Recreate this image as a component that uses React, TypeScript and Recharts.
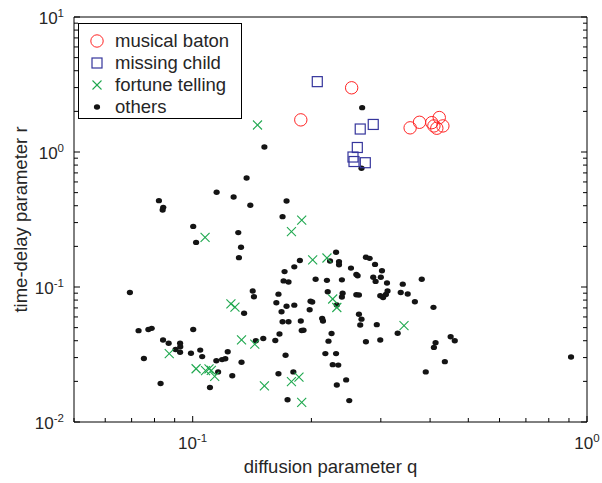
import { ScatterChart, Scatter, XAxis, YAxis, Legend } from 'recharts';

// q = diffusion parameter, r = time-delay parameter
const musicalBaton: [number, number][] = [
    [0.188, 1.73], [0.253, 2.99], [0.356, 1.51], [0.376, 1.66], [0.404, 1.65],
    [0.422, 1.8], [0.409, 1.56], [0.416, 1.5], [0.431, 1.56],
];

const missingChild: [number, number][] = [
    [0.207, 3.32], [0.287, 1.6], [0.266, 1.48], [0.2615, 1.08], [0.255, 0.918],
    [0.2565, 0.85], [0.274, 0.833],
];

const fortuneTelling: [number, number][] = [
    [0.146, 1.585], [0.1075, 0.233], [0.178, 0.257], [0.189, 0.313], [0.2015, 0.159],
    [0.219, 0.164], [0.125, 0.0751], [0.128, 0.0709], [0.2265, 0.0815], [0.232, 0.0705],
    [0.0872, 0.0321], [0.133, 0.0406], [0.1437, 0.0377], [0.102, 0.0248], [0.1078, 0.024],
    [0.11, 0.0247], [0.1115, 0.0241], [0.1137, 0.0218], [0.152, 0.0185], [0.178, 0.0199],
    [0.186, 0.0215], [0.189, 0.014], [0.3435, 0.0517],
];

const others: [number, number][] = [
    [0.152, 1.09], [0.269, 2.13], [0.268, 0.757], [0.137, 0.642], [0.115, 0.503],
    [0.127, 0.464], [0.14, 0.403], [0.173, 0.434], [0.169, 0.332], [0.0821, 0.436],
    [0.0842, 0.389], [0.0839, 0.372], [0.1003, 0.281], [0.102, 0.214], [0.1305, 0.253],
    [0.1326, 0.197], [0.131, 0.165], [0.0693, 0.0911],
    [0.187, 0.157], [0.181, 0.141], [0.171, 0.13], [0.17, 0.111], [0.175, 0.109],
    [0.231, 0.181], [0.223, 0.156], [0.235, 0.154], [0.235, 0.146], [0.252, 0.138],
    [0.26, 0.124], [0.262, 0.121], [0.275, 0.166], [0.281, 0.163], [0.29, 0.147],
    [0.302, 0.132], [0.287, 0.118], [0.3, 0.118], [0.291, 0.11], [0.311, 0.107],
    [0.381, 0.114], [0.341, 0.105], [0.337, 0.0911], [0.351, 0.0887], [0.205, 0.114],
    [0.219, 0.112], [0.239, 0.113], [0.142, 0.0934], [0.143, 0.0847], [0.165, 0.0885],
    [0.163, 0.0765], [0.173, 0.0721], [0.181, 0.0734], [0.199, 0.0784], [0.201, 0.0774],
    [0.198, 0.0678], [0.22, 0.0923], [0.24, 0.0898], [0.239, 0.0843], [0.232, 0.0736],
    [0.26, 0.0877], [0.264, 0.0872], [0.299, 0.0861], [0.304, 0.0836], [0.309, 0.088],
    [0.312, 0.0934], [0.366, 0.0778], [0.408, 0.0707], [0.264, 0.0628], [0.268, 0.0578],
    [0.266, 0.0523], [0.135, 0.0639], [0.168, 0.0656], [0.213, 0.0584], [0.214, 0.056],
    [0.169, 0.0553], [0.175, 0.0553], [0.188, 0.056], [0.293, 0.0526], [0.0729, 0.0475],
    [0.0772, 0.0484], [0.0787, 0.0494], [0.1003, 0.0484], [0.0841, 0.0405], [0.0869, 0.0383],
    [0.0905, 0.0344], [0.0929, 0.0383], [0.093, 0.0361], [0.0929, 0.0329], [0.0752, 0.0295],
    [0.099, 0.0323], [0.1045, 0.0341], [0.1057, 0.0305], [0.1227, 0.0331], [0.1148, 0.0284],
    [0.1187, 0.029], [0.121, 0.0294], [0.1446, 0.04], [0.151, 0.0415], [0.166, 0.0449],
    [0.162, 0.0402], [0.189, 0.0476], [0.191, 0.0478], [0.225, 0.0452], [0.221, 0.0397],
    [0.275, 0.0393], [0.299, 0.0405], [0.331, 0.0454], [0.451, 0.0428], [0.462, 0.04],
    [0.413, 0.0387], [0.409, 0.0357], [0.172, 0.0312], [0.133, 0.0277], [0.217, 0.0321],
    [0.231, 0.0321], [0.2265, 0.0266], [0.234, 0.0264], [0.436, 0.028], [0.911, 0.0303],
    [0.116, 0.0235], [0.126, 0.022], [0.0829, 0.0193], [0.1106, 0.018], [0.165, 0.0228],
    [0.18, 0.0235], [0.174, 0.0146], [0.232, 0.0188], [0.245, 0.0205], [0.2495, 0.0144],
    [0.39, 0.0235],
];

const xTicks = [0.05, 0.06, 0.07, 0.08, 0.09, 0.1, 0.2, 0.3, 0.4, 0.5, 0.6, 0.7, 0.8, 0.9, 1];
const yTicks = [
    0.01, 0.02, 0.03, 0.04, 0.05, 0.06, 0.07, 0.08, 0.09,
    0.1, 0.2, 0.3, 0.4, 0.5, 0.6, 0.7, 0.8, 0.9,
    1, 2, 3, 4, 5, 6, 7, 8, 9, 10,
];

const FONT = '"Liberation Sans", Arial, Helvetica, sans-serif';
const TEXT = '#262626';
const RED = '#ff2424';
const BLUE = '#35359c';
const GREEN = '#1fa84f';
const DOT = '#141414';

const toPts = (arr: [number, number][]) => arr.map(([q, r]) => ({ q, r }));

const isMajor = (v: number) => Math.abs(Math.log10(v) - Math.round(Math.log10(v))) < 1e-6;
const expOf = (v: number) => Math.round(Math.log10(v));

const Pow = ({ x, y, v, anchor }: any) => (
    <text x={x} y={y} textAnchor={anchor} fontSize={17} fill={TEXT} fontFamily={FONT}>
        10<tspan dy={-7} fontSize={11.5}>{expOf(v)}</tspan>
    </text>
);

// ticks point inward, like a matlab box
const BottomTick = ({ x, y, payload }: any) => {
    const major = isMajor(payload.value);
    return (
        <g>
            <line x1={x} x2={x} y1={y} y2={y - (major ? 6 : 4)} stroke="#000" />
            {major && <Pow x={x} y={y + 27} v={payload.value} anchor="middle" />}
        </g>
    );
};

const TopTick = ({ x, y, payload }: any) => {
    const major = isMajor(payload.value);
    return <line x1={x} x2={x} y1={y} y2={y + (major ? 6 : 4)} stroke="#000" />;
};

const LeftTick = ({ x, y, payload }: any) => {
    const major = isMajor(payload.value);
    return (
        <g>
            <line x1={x} x2={x + (major ? 6 : 4)} y1={y} y2={y} stroke="#000" />
            {major && <Pow x={x - 10} y={y + 7} v={payload.value} anchor="end" />}
        </g>
    );
};

const RightTick = ({ x, y, payload }: any) => {
    const major = isMajor(payload.value);
    return <line x1={x} x2={x - (major ? 6 : 4)} y1={y} y2={y} stroke="#000" />;
};

const CircleMark = ({ cx, cy }: any) => (
    <circle cx={cx} cy={cy} r={6.2} fill="none" stroke={RED} strokeWidth={1} />
);
const SquareMark = ({ cx, cy }: any) => (
    <rect x={cx - 5} y={cy - 5} width={10} height={10} fill="none" stroke={BLUE} strokeWidth={1.2} />
);
const CrossMark = ({ cx, cy }: any) => (
    <g stroke={GREEN} strokeWidth={1.1}>
        <line x1={cx - 4.5} y1={cy - 4.5} x2={cx + 4.5} y2={cy + 4.5} />
        <line x1={cx - 4.5} y1={cy + 4.5} x2={cx + 4.5} y2={cy - 4.5} />
    </g>
);
const DotMark = ({ cx, cy }: any) => <ellipse cx={cx} cy={cy} rx={3.1} ry={2.7} fill={DOT} />;

const legendRows = [
    { name: 'musical baton', mark: <circle cx={8} cy={8} r={6.2} fill="none" stroke={RED} /> },
    { name: 'missing child', mark: <rect x={3} y={3} width={10} height={10} fill="none" stroke={BLUE} strokeWidth={1.2} /> },
    {
        name: 'fortune telling',
        mark: (
            <g stroke={GREEN} strokeWidth={1.1}>
                <line x1={3.5} y1={3.5} x2={12.5} y2={12.5} />
                <line x1={3.5} y1={12.5} x2={12.5} y2={3.5} />
            </g>
        ),
    },
    { name: 'others', mark: <ellipse cx={8} cy={8} rx={3.1} ry={2.7} fill={DOT} /> },
];

const renderLegend = () => (
    <div
        style={{
            position: 'relative',
            width: 164,
            height: 96,
            boxSizing: 'border-box',
            border: '1.5px solid #000',
            background: '#fff',
            fontFamily: FONT,
            fontSize: 18.5,
            color: TEXT,
        }}
    >
        {legendRows.map((row, i) => (
            <div key={row.name} style={{ position: 'absolute', left: 0, top: 17 + i * 22 - 11, height: 22, width: '100%' }}>
                <svg width={16} height={16} style={{ position: 'absolute', left: 10, top: 3 }}>
                    {row.mark}
                </svg>
                <span style={{ position: 'absolute', left: 36, top: 0, lineHeight: '22px', whiteSpace: 'nowrap' }}>
                    {row.name}
                </span>
            </div>
        ))}
    </div>
);

export default function App() {
    return (
        <div style={{ position: 'absolute', left: 0, top: 0, background: '#fff' }}>
            <ScatterChart width={602} height={483} margin={{ top: 0, right: 0, bottom: 0, left: 0 }}>
                <XAxis
                    type="number"
                    dataKey="q"
                    scale="log"
                    domain={[0.05, 1]}
                    allowDataOverflow
                    ticks={xTicks}
                    interval={0}
                    height={61}
                    tickSize={0}
                    tickMargin={0}
                    tickLine={false}
                    axisLine={{ stroke: '#000' }}
                    tick={<BottomTick />}
                    label={{
                        value: 'diffusion parameter q',
                        position: 'insideBottom',
                        offset: 10,
                        fontSize: 18.5,
                        fill: TEXT,
                        fontFamily: FONT,
                    }}
                />
                <XAxis
                    xAxisId="top"
                    orientation="top"
                    type="number"
                    scale="log"
                    domain={[0.05, 1]}
                    allowDataOverflow
                    ticks={xTicks}
                    interval={0}
                    height={17}
                    tickSize={0}
                    tickMargin={0}
                    tickLine={false}
                    axisLine={{ stroke: '#000' }}
                    tick={<TopTick />}
                />
                <YAxis
                    type="number"
                    dataKey="r"
                    scale="log"
                    domain={[0.01, 10]}
                    allowDataOverflow
                    ticks={yTicks}
                    interval={0}
                    width={74}
                    tickSize={0}
                    tickMargin={0}
                    tickLine={false}
                    axisLine={{ stroke: '#000' }}
                    tick={<LeftTick />}
                    label={{
                        content: () => (
                            <text
                                transform="translate(26.5,219.5) rotate(-90)"
                                textAnchor="middle"
                                fontSize={18.5}
                                fill={TEXT}
                                fontFamily={FONT}
                            >
                                time-delay parameter r
                            </text>
                        ),
                    }}
                />
                <YAxis
                    yAxisId="right"
                    orientation="right"
                    type="number"
                    scale="log"
                    domain={[0.01, 10]}
                    allowDataOverflow
                    ticks={yTicks}
                    interval={0}
                    width={15}
                    tickSize={0}
                    tickMargin={0}
                    tickLine={false}
                    axisLine={{ stroke: '#000' }}
                    tick={<RightTick />}
                />
                <Scatter name="others" data={toPts(others)} shape={<DotMark />} isAnimationActive={false} />
                <Scatter name="fortune telling" data={toPts(fortuneTelling)} shape={<CrossMark />} isAnimationActive={false} />
                <Scatter name="missing child" data={toPts(missingChild)} shape={<SquareMark />} isAnimationActive={false} />
                <Scatter name="musical baton" data={toPts(musicalBaton)} shape={<CircleMark />} isAnimationActive={false} />
                <Legend
                    layout="vertical"
                    align="center"
                    verticalAlign="middle"
                    content={renderLegend}
                    wrapperStyle={{ left: 78, top: 23, width: 164, height: 96 }}
                />
            </ScatterChart>
        </div>
    );
}
